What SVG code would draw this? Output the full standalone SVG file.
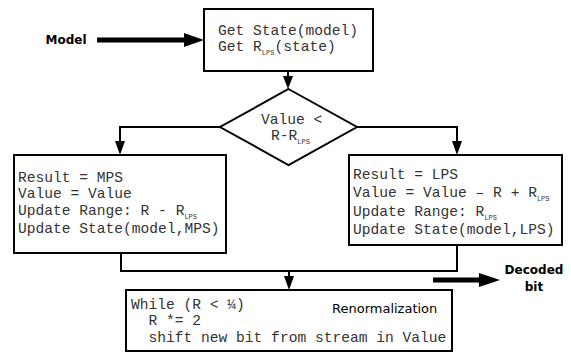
<svg xmlns="http://www.w3.org/2000/svg" width="571" height="354" viewBox="0 0 571 354">
<style>
.box{fill:#fff;stroke:#000;stroke-width:2}
.ln{fill:none;stroke:#000;stroke-width:2}
.thick{fill:none;stroke:#000;stroke-width:5}
.mono{font-family:"Liberation Mono","DejaVu Sans Mono",monospace;font-size:14.6px;fill:#333}
.sub{font-size:7px}
.lbl{font-family:"DejaVu Sans",sans-serif;font-size:12px;font-weight:bold;fill:#000}
.ren{font-family:"DejaVu Sans",sans-serif;font-size:13px;fill:#000}
</style>
<rect width="571" height="354" fill="#fff"/>
<g id="connectors">
<line class="ln" x1="288" y1="71" x2="288" y2="77"/>
<path d="M283,76 L293,76 L288,89 Z"/>
<polyline class="ln" points="220,127 120,127 120,142"/>
<path d="M115,141 L125,141 L120,155 Z"/>
<polyline class="ln" points="357,127 457,127 457,142"/>
<path d="M452,141 L462,141 L457,155 Z"/>
<polyline class="ln" points="121,253 121,271 457,271 457,245"/>
<line class="ln" x1="289" y1="271" x2="289" y2="277"/>
<path d="M284,276 L294,276 L289,290 Z"/>
<line class="thick" x1="97" y1="40" x2="186" y2="40"/>
<path d="M184,33 L204,40 L184,47 Z"/>
<line class="thick" x1="433" y1="280" x2="481" y2="280"/>
<path d="M479,273 L500,280 L479,287 Z"/>
</g>
<g id="model"><text class="lbl" x="66" y="44" text-anchor="middle">Model</text></g>
<g id="get-state">
<rect class="box" x="204" y="9" width="169" height="62"/>
<text class="mono" x="218" y="35">Get State(model)</text>
<text class="mono" x="218" y="51">Get R<tspan class="sub" dy="4">LPS</tspan><tspan dy="-4">(state)</tspan></text>
</g>
<g id="decision">
<polygon class="box" points="288.5,89 357,127 288.5,165 220,127"/>
<text class="mono" x="261" y="124">Value &lt;</text>
<text class="mono" x="271" y="140">R-R<tspan class="sub" dy="4">LPS</tspan></text>
</g>
<g id="mps">
<rect class="box" x="14" y="155" width="212" height="98"/>
<text class="mono" x="18" y="182">Result = MPS</text>
<text class="mono" x="18" y="198">Value = Value</text>
<text class="mono" x="18" y="215">Update Range: R - R<tspan class="sub" dy="4">LPS</tspan></text>
<text class="mono" x="18" y="233">Update State(model,MPS)</text>
</g>
<g id="lps">
<rect class="box" x="349" y="155" width="213" height="90"/>
<text class="mono" x="353" y="179">Result = LPS</text>
<text class="mono" x="353" y="197">Value = Value – R + R<tspan class="sub" dy="4">LPS</tspan></text>
<text class="mono" x="353" y="216">Update Range: R<tspan class="sub" dy="4">LPS</tspan></text>
<text class="mono" x="353" y="234">Update State(model,LPS)</text>
</g>
<g id="renorm">
<rect class="box" x="126" y="290" width="326" height="61"/>
<text class="mono" x="131" y="309">While (R &lt; ¼)</text>
<text class="mono" x="131" y="325" xml:space="preserve">  R *= 2</text>
<text class="mono" x="131" y="342" xml:space="preserve">  shift new bit from stream in Value</text>
<text class="ren" x="332" y="313">Renormalization</text>
</g>
<g id="decoded">
<text class="lbl" x="534" y="274" text-anchor="middle">Decoded</text>
<text class="lbl" x="534" y="291" text-anchor="middle">bit</text>
</g>
</svg>
